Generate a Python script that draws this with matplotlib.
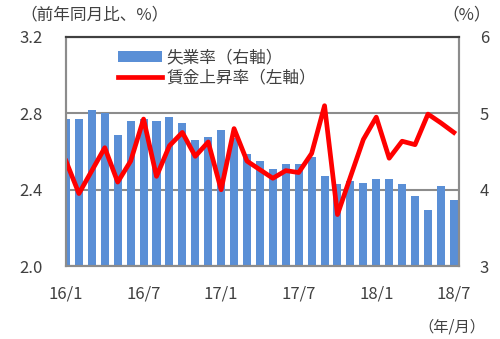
import matplotlib
matplotlib.use('Agg')
import matplotlib.pyplot as plt
import numpy as np

plt.rcParams['font.family'] = ['Noto Sans CJK JP', 'DejaVu Sans']

# monthly data, 2016/1 - 2018/7
months = ['16/1', '16/2', '16/3', '16/4', '16/5', '16/6', '16/7', '16/8', '16/9', '16/10', '16/11', '16/12',
          '17/1', '17/2', '17/3', '17/4', '17/5', '17/6', '17/7', '17/8', '17/9', '17/10', '17/11', '17/12',
          '18/1', '18/2', '18/3', '18/4', '18/5', '18/6', '18/7']
unemployment = [4.93, 4.92, 5.05, 5.0, 4.72, 4.9, 4.92, 4.9, 4.95, 4.87, 4.65, 4.69,
                4.78, 4.68, 4.47, 4.38, 4.27, 4.34, 4.34, 4.43, 4.18, 4.07,
                4.12, 4.09, 4.14, 4.14, 4.07, 3.92, 3.74, 4.05, 3.87]
wages = [2.55, 2.38, 2.50, 2.62, 2.44, 2.55, 2.77, 2.47, 2.63, 2.70, 2.575, 2.65,
         2.40, 2.72, 2.55, 2.505, 2.46, 2.50, 2.49, 2.59, 2.84, 2.27,
         2.467, 2.663, 2.78, 2.565, 2.654, 2.636, 2.796, 2.75, 2.70]
tick_labels = ['16/1', '16/7', '17/1', '17/7', '18/1', '18/7']

x = np.arange(len(months))
txt = '#404040'

fig = plt.figure(figsize=(5, 3.39), dpi=100)
ax = fig.add_axes([0.132, 0.215, 0.786, 0.676])
ax2 = ax.twinx()

# bars on right axis
ax2.set_axisbelow(True)
ax2.grid(axis='y', color='#8c8c8c', linewidth=1.5)
bars = ax2.bar(x, unemployment, width=0.62, color='#5a8fd6', label='失業率（右軸）')
ax2.set_ylim(3, 6)
ax2.set_yticks([3, 4, 5, 6])

# line on left axis, drawn on top
ax.set_zorder(ax2.get_zorder() + 1)
ax.patch.set_visible(False)
line, = ax.plot(x, wages, color='#ff0000', linewidth=3.4, label='賃金上昇率（左軸）')
ax.set_ylim(2.0, 3.2)
ax.set_yticks([2.0, 2.4, 2.8, 3.2])
ax.set_yticklabels(['2.0', '2.4', '2.8', '3.2'])

ax.set_xlim(0, 30.4)
ax.set_xticks([0, 6, 12, 18, 24, 30])
ax.set_xticklabels(tick_labels)

for a in (ax, ax2):
    a.tick_params(length=0, labelsize=12, labelcolor=txt)
    for s in a.spines.values():
        s.set_color('#8c8c8c')
        s.set_linewidth(1.5)
    a.spines['top'].set_color('#404040')
ax.tick_params(axis='y', pad=17)
ax.tick_params(axis='x', pad=14)
ax2.tick_params(axis='y', pad=15)

ax.legend(handles=[bars, line], loc='upper left', bbox_to_anchor=(0.095, 1.01),
          frameon=False, fontsize=12, handlelength=2.6, handleheight=0.6,
          labelspacing=0.15, handletextpad=0.3, labelcolor=txt)

fig.text(0.04, 0.955, '（前年同月比、%）', fontsize=12, color=txt, va='center')
fig.text(0.982, 0.955, '（%）', fontsize=12, color=txt, va='center', ha='right')
fig.text(0.97, 0.035, '（年/月）', fontsize=11, color=txt, va='center', ha='right')

fig.savefig('out.png', dpi=100)
